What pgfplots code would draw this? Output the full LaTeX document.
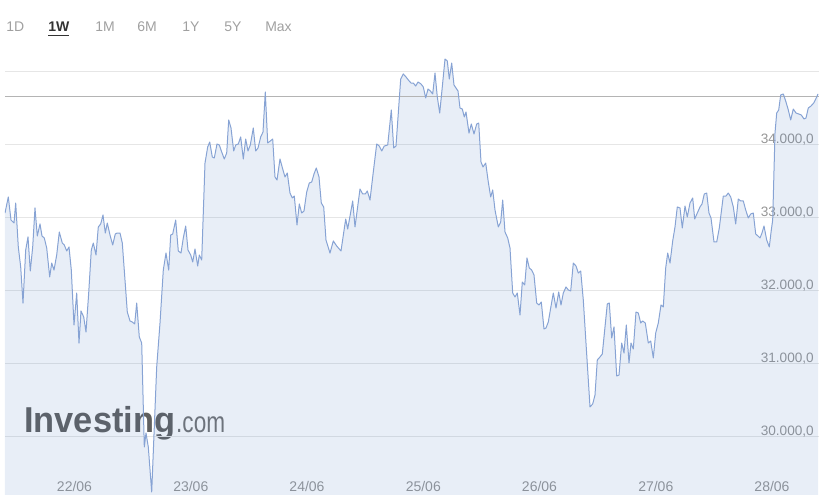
\documentclass[border=0pt]{standalone}
\usepackage{pgfplots}
\pgfplotsset{compat=1.18}
\usepackage{pgfplotstable}
\usepackage{fontspec}
\setmainfont{Liberation Sans}

\definecolor{linec}{RGB}{135,163,212}
\definecolor{fillb}{RGB}{74,122,192}
\definecolor{gridc}{RGB}{230,230,230}
\definecolor{labc}{RGB}{150,150,150}
\definecolor{curc}{RGB}{180,180,180}
\definecolor{btnc}{RGB}{160,160,160}
\definecolor{logoc}{RGB}{95,95,95}
\definecolor{logoc2}{RGB}{115,115,115}

\pgfplotstableread{
x y
5 33068
8.3 33288
11 32972
14 32931
15.7 33205
18.3 32603
20.7 32329
23 31835
25.7 32561
28 32740
30.3 32274
32.7 32603
35 33137
37.3 32753
40 32918
42 32753
44.3 32726
46.7 32589
49.7 32192
51.7 32383
54 32287
56.7 32493
59.3 32808
62.3 32657
64.3 32630
66.7 32548
69 32603
71.3 32287
74 31534
76.7 31972
79 31287
81 31726
83.7 31644
86 31438
88.7 31972
91.3 32561
93.3 32657
96 32493
98.3 32877
100.7 32918
103 33041
105.3 32794
107.3 32931
110 32767
112.7 32630
115.3 32781
117.3 32794
120 32794
122.3 32657
125 32150
127.3 31712
130 31589
132.3 31575
134.7 31548
136.7 31835
139.3 31370
141.7 31287
144.3 29863
146 30054
148.3 29863
151.7 29246
156.7 30959
160 31561
163.3 32287
166 32520
168.7 32287
170.7 32767
172.7 32781
175.7 32972
178.3 32548
181 32520
183.3 32726
185.7 32890
188 32561
190.7 32493
192.7 32397
195 32575
197.7 32342
199.3 32493
201.7 32424
205 33753
207.7 33973
209.7 34041
212.3 33836
214.3 33822
217 34014
219.3 34000
221.7 33904
224.3 33808
226.7 33890
228.7 34343
231 34233
233.7 33918
235.7 34000
238.3 34014
240.7 34110
243.3 33808
245.7 34082
248 33918
250.3 34000
253.3 34233
255.7 33918
258 33959
260.7 34110
263 34178
265.3 34726
267.7 34027
270.3 34055
272.7 34082
275 33562
277 33520
280 33808
282.7 33671
285 33562
287.3 33616
290 33342
292.3 33274
294.3 33301
297 32904
299.3 33192
301.7 33068
304 33096
306.7 33356
309.3 33479
311.7 33493
314 33603
316.3 33685
319 33562
321.3 33205
323.7 33151
326 32698
330 32520
333.3 32685
336.7 32616
341 32548
345.7 32986
347.7 32849
352.7 33233
355 32877
360 33397
362.7 33329
365.3 33329
367.3 33370
370 33246
372.7 33562
376.7 34014
379.3 33986
381.7 33918
384.3 33986
387.7 34000
391.3 34480
393.7 33959
396 33986
399 34575
400.7 34904
403.3 34973
406 34932
408.3 34891
411 34849
413.3 34849
415.7 34808
418 34863
421 34836
423.3 34795
425.7 34644
428 34767
430.3 34740
432.7 34699
435 34986
437.3 34658
439.7 34438
442 34754
445 35178
447.3 35151
449.3 34904
451.7 35123
454 34822
456 34781
458 34740
460 34507
462.3 34493
464.3 34384
466 34452
469 34164
471.3 34288
474 34151
476.7 34288
478.7 34301
481 33767
483 33699
485.7 33753
488.3 33493
490.7 33288
492.7 33384
495 33110
498.3 32877
500.7 32945
502.7 33246
505 32808
507.7 32726
510 32589
512.7 31972
515 31918
517.3 31972
520 31671
522.3 32123
524.7 32082
527 32452
529.3 32315
531.7 32287
534 32219
536.7 31835
539 31808
541.3 31849
544 31479
546 31493
548.3 31575
550.7 31767
553.3 31972
556 31767
558.7 31986
561 31808
563.3 31972
566 32055
568.3 32014
570.7 32000
573.3 32383
576 32342
578.3 32246
580.7 32274
583.3 31877
590 30411
592.7 30452
595 30575
597.3 31055
600 31096
602.3 31137
607.3 31822
609.3 31835
611.7 31356
614 31507
616.7 30835
619 30849
621.7 31287
624 31150
626.3 31534
629 31014
631 31287
633.3 31205
636 31712
638.3 31698
640.7 31561
642.7 31589
645.3 31561
648.3 31287
650.7 31315
653.3 31082
655.7 31424
658.3 31561
661 31808
663.3 31781
665.7 32315
667.7 32520
670 32383
672.7 32685
675 32877
677.3 33151
680 33137
682.3 32863
685 33164
687.3 33014
690 33205
692.7 33274
694.7 32986
697.3 33068
700 33151
702 33192
704.3 33329
706.7 33342
709 33068
711 33000
714 32671
716.7 32671
719.3 32863
723.3 33301
726 33301
728.3 33342
730.7 33288
733.3 33151
735.7 32918
738.3 33260
740.7 33233
743.3 33233
745.7 33110
748.3 33000
750.7 33055
753.3 33068
755.7 32781
758 32753
760 32726
762 32794
764 32890
766.7 32698
769.3 32603
771.3 32835
772.7 32973
775 34164
776.7 34438
778.7 34480
780.7 34685
783.3 34699
786 34589
788.3 34480
790.7 34343
793.3 34493
796 34438
798.7 34425
801.3 34411
804 34356
806 34370
808.3 34507
811 34534
813.7 34575
816.7 34658
818 34699
}\pricedata

\begin{document}
\begin{tikzpicture}
\path[use as bounding box] (0,0) rectangle (614.25pt,373.5pt);

% period buttons
\begin{scope}[every node/.style={anchor=base west, inner sep=0pt, font=\fontsize{10.5}{12}\selectfont, text=btnc}]
\node at (4.5pt,349.5pt) {1D};
\node[text=black!80, font=\fontsize{10.5}{12}\selectfont\bfseries] at (36pt,349.5pt) {1W};
\node at (71.25pt,349.5pt) {1M};
\node at (102.75pt,349.5pt) {6M};
\node at (136.5pt,349.5pt) {1Y};
\node at (168pt,349.5pt) {5Y};
\node at (198.75pt,349.5pt) {Max};
\end{scope}
\draw[black!80, line width=1.1pt] (36pt,347pt) -- (51.75pt,347pt);

% watermark logo
\node[anchor=base west, inner sep=0pt, text=logoc, font=\fontsize{27}{30}\selectfont\bfseries, xscale=0.955] at (18pt,48.75pt) {Investing};
\node[anchor=base west, inner sep=0pt, text=logoc2, font=\fontsize{22}{26}\selectfont, xscale=0.77] at (132pt,48.75pt) {.com};

\begin{axis}[
  at={(3.75pt,2.25pt)}, anchor=south west,
  scale only axis, width=610.5pt, height=341.25pt,
  xmin=5, xmax=819, ymin=29205, ymax=35438.5,
  scaled y ticks=false, scaled x ticks=false,
  axis line style={draw=none},
  tick style={draw=none},
  major tick length=0pt,
  ymajorgrids, grid style={gridc, line width=0.75pt},
  ytick={30000,31000,32000,33000,34000,35000},
  yticklabels={{30.000,0},{31.000,0},{32.000,0},{33.000,0},{34.000,0},{}},
  yticklabel pos=right,
  yticklabel style={anchor=base east, inner sep=0pt, xshift=-3.75pt, yshift=0.75pt, font=\fontsize{10.2}{12}\selectfont, text=labc},
  xtick={74.5,190.8,307,423.3,539.5,655.8,772},
  xticklabels={22/06,23/06,24/06,25/06,26/06,27/06,28/06},
  xticklabel style={anchor=base, inner sep=0pt, yshift=2.25pt, font=\fontsize{10.5}{12}\selectfont, text=labc},
  /pgf/number format/assume math mode=true,
]
\addplot[draw=none, fill=fillb, fill opacity=0.13] table[x=x,y=y]{\pricedata} \closedcycle;
\addplot[curc, line width=0.75pt] coordinates {(5,34671) (819,34671)};
\addplot[linec, line width=0.75pt, line join=round] table[x=x,y=y]{\pricedata};
\end{axis}
\end{tikzpicture}
\end{document}
